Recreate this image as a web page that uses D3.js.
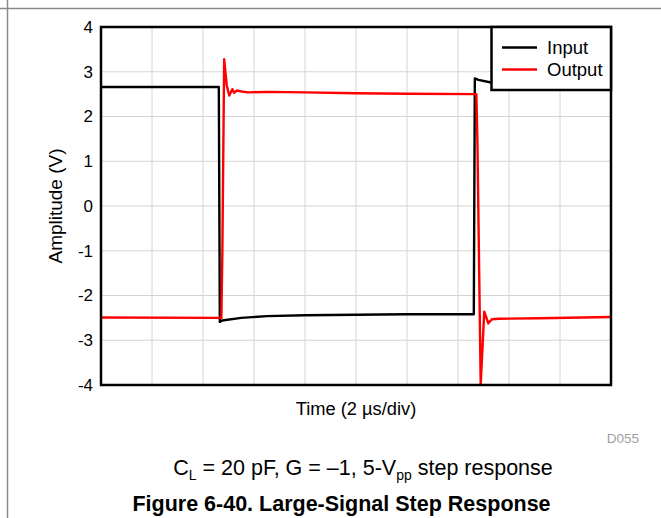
<!DOCTYPE html>
<html>
<head>
<meta charset="utf-8">
<script src="https://cdn.jsdelivr.net/npm/d3@7"></script>
<style>
  body { margin: 0; background: #fff; }
  svg { font-family: Arial, "Liberation Sans", sans-serif; }
  .y-axis text { font-size: 17px; }
</style>
</head>
<body>
<svg id="chart"></svg>
<script>
// time in us, amplitude in V
const inputTime = [0, 4.62, 4.66, 4.75, 5.5, 6.5, 8, 10, 12, 14.62, 14.66, 14.8, 15.3, 16, 20];
const inputAmp = [2.66, 2.66, -2.59, -2.56, -2.5, -2.46, -2.44, -2.43, -2.42, -2.42, 2.85, 2.82, 2.76, 2.74, 2.72];

const outputTime = [0, 4.72, 4.76, 4.83, 4.93, 5.03, 5.15, 5.22, 5.32, 5.5, 5.76, 6.6, 8, 10, 12, 14.72,
  14.76, 14.89, 15.03, 15.19, 15.33, 15.6, 17.2, 20];
const outputAmp = [-2.49, -2.5, -1.0, 3.28, 2.7, 2.47, 2.61, 2.53, 2.58, 2.56, 2.54, 2.55, 2.54, 2.52, 2.51, 2.5,
  1.5, -3.98, -2.36, -2.62, -2.53, -2.52, -2.51, -2.48];

const yTicks = [-4, -3, -2, -1, 0, 1, 2, 3, 4];
const xTicks = [0, 2, 4, 6, 8, 10, 12, 14, 16, 18, 20];
const seriesNames = ['Input', 'Output'];
const seriesColors = ['#000000', '#ff0000'];

const width = 661;
const height = 518;
const plot = { left: 101, right: 611, top: 27, bottom: 385 };

const svg = d3.select('#chart')
    .attr('width', width)
    .attr('height', height);

// page frame lines
svg.append('line')
    .attr('x1', 0).attr('x2', width).attr('y1', 8.5).attr('y2', 8.5)
    .attr('stroke', '#8a8a8a').attr('stroke-width', 1.5);
svg.append('line')
    .attr('x1', 7.5).attr('x2', 7.5).attr('y1', 0).attr('y2', height)
    .attr('stroke', '#8a8a8a').attr('stroke-width', 1.5);

const x = d3.scaleLinear().domain([0, 20]).range([plot.left, plot.right]);
const y = d3.scaleLinear().domain([-4, 4]).range([plot.bottom, plot.top]);

// grid
svg.append('g').selectAll('line')
    .data(xTicks)
    .enter()
    .append('line')
    .attr('stroke', '#d4d4d4')
    .attr('x1', (d) => x(d)).attr('x2', (d) => x(d))
    .attr('y1', plot.top).attr('y2', plot.bottom);

svg.append('g').selectAll('line')
    .data(yTicks)
    .enter()
    .append('line')
    .attr('stroke', '#d4d4d4')
    .attr('x1', plot.left).attr('x2', plot.right)
    .attr('y1', (d) => y(d)).attr('y2', (d) => y(d));

// y axis labels
const yAxis = svg.append('g')
    .attr('class', 'y-axis')
    .attr('transform', 'translate(' + plot.left + ',0)')
    .call(d3.axisLeft(y).tickValues(yTicks).tickSize(0).tickPadding(8).tickFormat((d) => String(d)));
yAxis.attr('font-size', 17).attr('font-family', null);
yAxis.select('.domain').remove();
yAxis.selectAll('text').attr('fill', '#000');

// lines
const line = d3.line()
    .x((d) => x(d[0]))
    .y((d) => y(d[1]));

const inputData = inputTime.map((t, i) => [t, inputAmp[i]]);
const outputData = outputTime.map((t, i) => [t, outputAmp[i]]);

svg.append('defs').append('clipPath').attr('id', 'clip')
    .append('rect')
    .attr('x', plot.left).attr('y', plot.top)
    .attr('width', plot.right - plot.left).attr('height', plot.bottom - plot.top);

const lines = svg.append('g').attr('clip-path', 'url(#clip)');

lines.append('path')
    .datum(inputData)
    .attr('fill', 'none')
    .attr('stroke', seriesColors[0])
    .attr('stroke-width', 2.4)
    .attr('stroke-linejoin', 'round')
    .attr('d', line);

lines.append('path')
    .datum(outputData)
    .attr('fill', 'none')
    .attr('stroke', seriesColors[1])
    .attr('stroke-width', 2.4)
    .attr('stroke-linejoin', 'round')
    .attr('d', line);

// frame
svg.append('rect')
    .attr('x', plot.left).attr('y', plot.top)
    .attr('width', plot.right - plot.left).attr('height', plot.bottom - plot.top)
    .attr('fill', 'none')
    .attr('stroke', '#000')
    .attr('stroke-width', 2.5);

// legend
const legend = svg.append('g');
legend.append('rect')
    .attr('x', 491.5).attr('y', plot.top)
    .attr('width', plot.right - 491.5).attr('height', 63)
    .attr('fill', '#fff')
    .attr('stroke', '#000')
    .attr('stroke-width', 2.5);

legend.selectAll('.legend-line')
    .data(seriesNames)
    .enter()
    .append('line')
    .attr('class', 'legend-line')
    .attr('x1', 502).attr('x2', 537)
    .attr('y1', (d, i) => 47.5 + i * 22).attr('y2', (d, i) => 47.5 + i * 22)
    .attr('stroke', (d, i) => seriesColors[i])
    .attr('stroke-width', 2.5);

legend.selectAll('.legend-text')
    .data(seriesNames)
    .enter()
    .append('text')
    .attr('class', 'legend-text')
    .attr('x', 547)
    .attr('y', (d, i) => 54 + i * 22)
    .style('font-size', '18.5px')
    .text((d) => d);

// axis titles
svg.append('text')
    .attr('transform', 'translate(62,' + y(0) + ') rotate(-90)')
    .attr('text-anchor', 'middle')
    .style('font-size', '19px')
    .text('Amplitude (V)');

svg.append('text')
    .attr('x', 356)
    .attr('y', 415)
    .attr('text-anchor', 'middle')
    .style('font-size', '18.3px')
    .text('Time (2 \u00b5s/div)');

svg.append('text')
    .attr('x', 639)
    .attr('y', 443)
    .attr('text-anchor', 'end')
    .style('font-size', '13.5px')
    .attr('fill', '#a0a0a0')
    .text('D055');

// caption
const cap = svg.append('text')
    .attr('x', 363)
    .attr('y', 475)
    .attr('text-anchor', 'middle')
    .style('font-size', '21.5px');
cap.append('tspan').text('C');
cap.append('tspan').style('font-size', '14px').attr('dy', 5).text('L');
cap.append('tspan').attr('dy', -5).text(' = 20 pF, G = \u20131, 5-V');
cap.append('tspan').style('font-size', '14px').attr('dy', 5).text('pp');
cap.append('tspan').attr('dy', -5).text(' step response');

svg.append('text')
    .attr('x', 341.5)
    .attr('y', 511)
    .attr('text-anchor', 'middle')
    .style('font-size', '21.5px')
    .attr('font-weight', 'bold')
    .text('Figure 6-40. Large-Signal Step Response');
</script>
</body>
</html>
